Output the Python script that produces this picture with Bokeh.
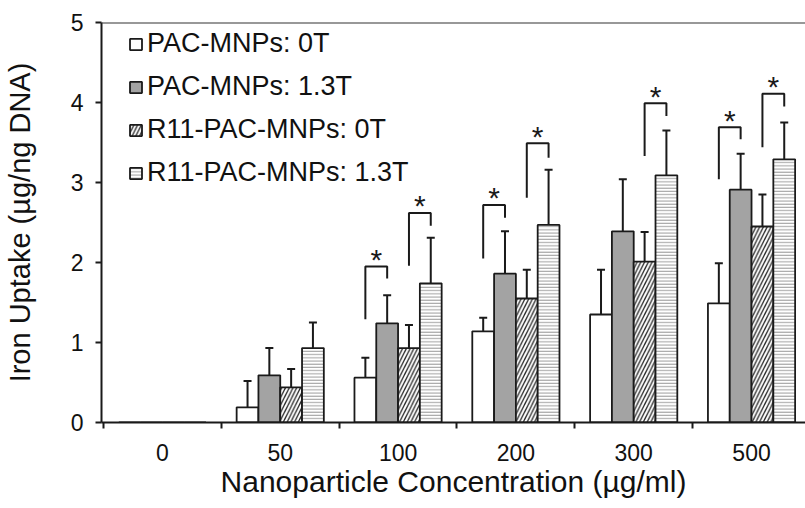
from bokeh.plotting import figure
from bokeh.models import (ColumnDataSource, Range1d, FixedTicker, Whisker, TeeHead,
                          Span, Legend, LegendItem)
from bokeh.core.properties import value
from bokeh.embed import file_html
from bokeh.resources import INLINE

# ---- data ----
concentrations = ["0", "50", "100", "200", "300", "500"]
series_names = ["PAC-MNPs: 0T", "PAC-MNPs: 1.3T", "R11-PAC-MNPs: 0T", "R11-PAC-MNPs: 1.3T"]

pac_0t = [0, 0.19, 0.56, 1.14, 1.35, 1.49]
pac_0t_sd = [0, 0.33, 0.25, 0.17, 0.56, 0.50]
pac_13t = [0, 0.59, 1.24, 1.86, 2.39, 2.91]
pac_13t_sd = [0, 0.34, 0.35, 0.53, 0.65, 0.45]
r11_0t = [0, 0.44, 0.93, 1.55, 2.01, 2.45]
r11_0t_sd = [0, 0.23, 0.29, 0.36, 0.37, 0.40]
r11_13t = [0, 0.93, 1.74, 2.47, 3.09, 3.29]
r11_13t_sd = [0, 0.32, 0.57, 0.69, 0.56, 0.46]

# significance brackets
br_group = [2, 2, 3, 3, 4, 5, 5]
br_left = [0, 2, 0, 2, 2, 0, 2]
br_right = [1, 3, 1, 3, 3, 1, 3]
br_left_low = [1.29, 1.96, 2.05, 2.81, 3.33, 3.04, 3.44]
br_top = [1.95, 2.62, 2.72, 3.49, 3.99, 3.69, 4.11]
br_right_low = [1.80, 2.46, 2.56, 3.31, 3.83, 3.54, 3.95]

y_ticks = [0, 1, 2, 3, 4, 5]

FONT = "Liberation Sans"
INK = "#1a1a1a"

p = figure(width=805, height=508, x_range=Range1d(-0.517, 5.458), y_range=Range1d(0, 5),
           output_backend="svg", toolbar_location=None,
           min_border_left=100, min_border_right=0, min_border_top=22, min_border_bottom=86)
p.outline_line_color = None
p.grid.visible = False

bw = 0.185
offsets = [(i - 1.5) * bw for i in range(4)]

styles = [
    dict(fill_color="white"),
    dict(fill_color="#a3a3a3"),
    dict(fill_color="white", hatch_pattern="/", hatch_color="#222222", hatch_scale=7.5, hatch_weight=1.3),
    dict(fill_color="white", hatch_pattern="-", hatch_color="#9a9a9a", hatch_scale=3.2, hatch_weight=1),
]

values = [pac_0t, pac_13t, r11_0t, r11_13t]
sds = [pac_0t_sd, pac_13t_sd, r11_0t_sd, r11_13t_sd]

items = []
for i in range(4):
    xs = [g + offsets[i] for g in range(len(concentrations))]
    src = ColumnDataSource(dict(x=xs, top=values[i]))
    r = p.vbar(x="x", top="top", bottom=0, width=bw, source=src,
               line_color=INK, line_width=1.8, **styles[i])
    items.append(LegendItem(label=series_names[i], renderers=[r]))
    idx = [k for k in range(len(concentrations)) if values[i][k] > 0]
    wsrc = ColumnDataSource(dict(base=[xs[k] for k in idx],
                                 lower=[values[i][k] for k in idx],
                                 upper=[values[i][k] + sds[i][k] for k in idx]))
    w = Whisker(base="base", lower="lower", upper="upper", source=wsrc, dimension="height",
                line_color=INK, line_width=2, lower_head=None,
                upper_head=TeeHead(size=8, line_color=INK, line_width=2))
    p.add_layout(w)

# brackets
bx, by, sx = [], [], []
for k in range(len(br_group)):
    xl = br_group[k] + offsets[br_left[k]]
    xr = br_group[k] + offsets[br_right[k]]
    bx.append([xl, xl, xr, xr])
    by.append([br_left_low[k], br_top[k], br_top[k], br_right_low[k]])
    sx.append((xl + xr) / 2)
p.multi_line(bx, by, line_color=INK, line_width=2)
p.text(x=sx, y=br_top, text=["*"] * len(sx), text_font=value(FONT), text_font_size="30px",
       text_align="center", text_baseline="alphabetic", text_color=INK, y_offset=-7)

p.add_layout(Span(location=5, dimension="width", line_color="#333333", line_width=2))

# axes
xa = p.xaxis[0]
xa.ticker = FixedTicker(ticks=list(range(len(concentrations))),
                        minor_ticks=[k - 0.5 for k in range(len(concentrations) + 1)])
xa.major_label_overrides = {k: concentrations[k] for k in range(len(concentrations))}
xa.major_tick_line_color = None
xa.major_tick_in = 0
xa.major_tick_out = 6
xa.minor_tick_in = 0
xa.minor_tick_out = 6
xa.minor_tick_line_color = INK
xa.minor_tick_line_width = 2
xa.axis_label = "Nanoparticle Concentration (µg/ml)"
xa.major_label_standoff = 15
xa.axis_label_standoff = 1

ya = p.yaxis[0]
ya.ticker = FixedTicker(ticks=y_ticks)
ya.major_tick_in = 0
ya.major_tick_out = 6
ya.major_tick_line_width = 2
ya.major_tick_line_color = INK
ya.minor_tick_line_color = None
ya.axis_label = "Iron Uptake (µg/ng DNA)"
ya.major_label_standoff = 12
ya.axis_label_standoff = 32

for ax in (xa, ya):
    ax.axis_line_width = 2
    ax.axis_line_color = INK
    ax.major_label_text_font = FONT
    ax.major_label_text_font_size = "23px"
    ax.major_label_text_color = "#111111"
    ax.axis_label_text_font = FONT
    ax.axis_label_text_font_style = "normal"
    ax.axis_label_text_color = "#111111"
xa.axis_label_text_font_size = "30px"
ya.axis_label_text_font_size = "29px"

legend = Legend(items=items, location=(27, 234), border_line_color=None, background_fill_alpha=0,
                label_text_font=FONT, label_text_font_size="27px", label_text_color="#111111",
                glyph_width=15, glyph_height=14, label_standoff=4, spacing=12,
                padding=0, margin=0, label_height=30)
p.add_layout(legend)

open("out.html", "w").write(file_html(p, INLINE))
